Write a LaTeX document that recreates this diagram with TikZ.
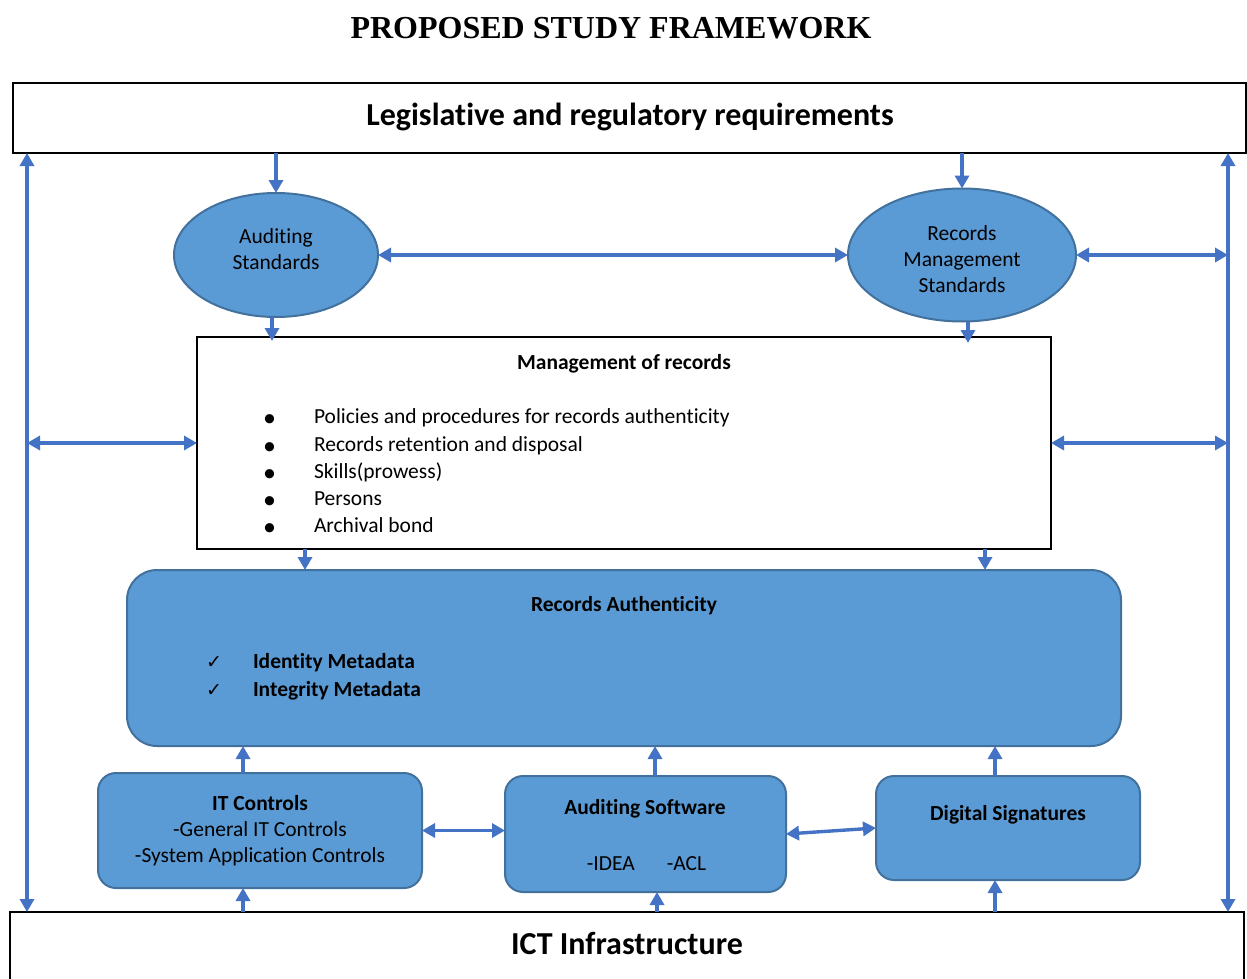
\documentclass[tikz,border=0pt]{standalone}
\usepackage{fontspec}
\setmainfont{Carlito}[Ligatures=NoCommon]
\newfontfamily\timesf{Liberation Serif}
\newfontfamily\djv{DejaVu Sans}
\usetikzlibrary{arrows.meta,shapes.geometric}
\definecolor{fillb}{HTML}{5B9BD5}
\definecolor{edgeb}{HTML}{41719C}
\definecolor{arrb}{HTML}{4472C4}
\newcommand{\bul}{\makebox[51pt][l]{\raisebox{-3pt}{\fontsize{26}{27.25}\selectfont\textbullet}}}
\newcommand{\chk}{\makebox[47pt][l]{\djv\mdseries\fontsize{19}{19}\selectfont ✓}}
\begin{document}
\begin{tikzpicture}[x=1pt,y=-1pt,
 every node/.style={inner sep=0pt, outer sep=0pt},
 plainbox/.style={draw=black, line width=2.4pt, fill=white},
 bluebox/.style={draw=edgeb, line width=2pt, fill=fillb, rounded corners=18pt},
 blueell/.style={ellipse, draw=edgeb, line width=2pt, fill=fillb},
 conn/.style={draw=arrb, line width=3.4pt, -{Triangle[length=13pt,width=14pt]}},
 dconn/.style={draw=arrb, line width=3.4pt, {Triangle[length=13pt,width=14pt]}-{Triangle[length=13pt,width=14pt]}},
 txt/.style={font=\fontsize{21.5}{26}\selectfont},
 btxt/.style={font=\fontsize{21.5}{26}\selectfont\bfseries},
 bigb/.style={font=\fontsize{32}{36}\selectfont\bfseries},
]
\useasboundingbox (0,0) rectangle (1247,979);
\fill[white] (0,0) rectangle (1247,979);

% title
\node[font=\fontsize{32}{36}\selectfont\timesf\bfseries] (title) at (611,28) {PROPOSED STUDY FRAMEWORK};

% boxes
\node[plainbox, minimum width=1233pt, minimum height=70pt] (top) at (629.5,118) {};
\node[bigb] (toptext) at (630,117) {Legislative and regulatory requirements};

\node[plainbox, minimum width=1234pt, minimum height=76pt] (ict) at (627,950) {};
\node[bigb] (icttext) at (627,943) {ICT Infrastructure};

\node[blueell, minimum width=204pt, minimum height=124pt] (as) at (276,255) {};
\node[txt, align=center] (ast) at (276,249) {Auditing\\Standards};
\node[blueell, minimum width=228pt, minimum height=133pt] (rms) at (962,255) {};
\node[txt, align=center] (rmst) at (962,259) {Records\\Management\\Standards};

\node[plainbox, minimum width=854pt, minimum height=212pt] (mgmt) at (624,443) {};
\node[btxt] (mgmtt) at (624,364) {Management of records};
\node[txt, align=left, anchor=north west, font=\fontsize{21.5}{27.25}\selectfont] (mgmtl) at (263,409)
 {\bul Policies and procedures for records authenticity\\
  \bul Records retention and disposal\\
  \bul Skills(prowess)\\
  \bul Persons\\
  \bul Archival bond};

\node[bluebox, rounded corners=30pt, minimum width=994pt, minimum height=176pt] (ra) at (624,658) {};
\node[btxt] (rat) at (624,606) {Records Authenticity};
\node[btxt, align=left, anchor=west, font=\fontsize{21.5}{28}\selectfont\bfseries] (ral) at (206,677)
 {\chk Identity Metadata\\
  \chk Integrity Metadata};

\node[bluebox, txt, align=center, minimum width=324pt, minimum height=115pt] (itc) at (260,830.5)
 {\textbf{IT Controls}\\-General IT Controls\\-System Application Controls};

\node[bluebox, minimum width=281pt, minimum height=116pt] (aus) at (645.5,834) {};
\node[btxt] (aust) at (645,809) {Auditing Software};
\node[txt] (ausl) at (646.5,864) {-IDEA\hspace{32pt}-ACL};

\node[bluebox, minimum width=264pt, minimum height=104pt] (ds) at (1008,828) {};
\node[btxt] (dst) at (1008,815) {Digital Signatures};

% helper x positions
\coordinate (lx) at (27,0);
\coordinate (rx) at (1228,0);
\coordinate (x272) at (272,0);
\coordinate (x968) at (968,0);
\coordinate (x305) at (305,0);
\coordinate (x985) at (985,0);
\coordinate (x243) at (243,0);
\coordinate (x655) at (655,0);
\coordinate (x657) at (657,0);
\coordinate (x995) at (995,0);

% connectors
\draw[dconn] (lx |- ict.north) -- (lx |- top.south);
\draw[dconn] (rx |- ict.north) -- (rx |- top.south);
\draw[conn] (as.north |- top.south) -- (as.north);
\draw[conn] (rms.north |- top.south) -- (rms.north);
\draw[dconn] (as.east) -- (rms.west);
\draw[dconn] (rms.east) -- (rms.east -| rx);
\draw[conn] (x272 |- as.south) -- ([yshift=-4pt]x272 |- mgmt.north);
\draw[conn] (x968 |- rms.south) -- ([yshift=-6pt]x968 |- mgmt.north);
\draw[dconn] (mgmt.west -| lx) -- (mgmt.west);
\draw[dconn] (mgmt.east) -- (mgmt.east -| rx);
\draw[conn] (x305 |- mgmt.south) -- (x305 |- ra.north);
\draw[conn] (x985 |- mgmt.south) -- (x985 |- ra.north);
\draw[conn] (x243 |- itc.north) -- (x243 |- ra.south);
\draw[conn] (x243 |- ict.north) -- (x243 |- itc.south);
\draw[conn] (x655 |- aus.north) -- (x655 |- ra.south);
\draw[conn] (x657 |- ict.north) -- (x657 |- aus.south);
\draw[conn] (x995 |- ds.north) -- (x995 |- ra.south);
\draw[conn] (x995 |- ict.north) -- (x995 |- ds.south);
\draw[dconn] (itc.east) -- (itc.east -| aus.west);
\draw[dconn] (aus.east) -- (ds.west);
\end{tikzpicture}
\end{document}
